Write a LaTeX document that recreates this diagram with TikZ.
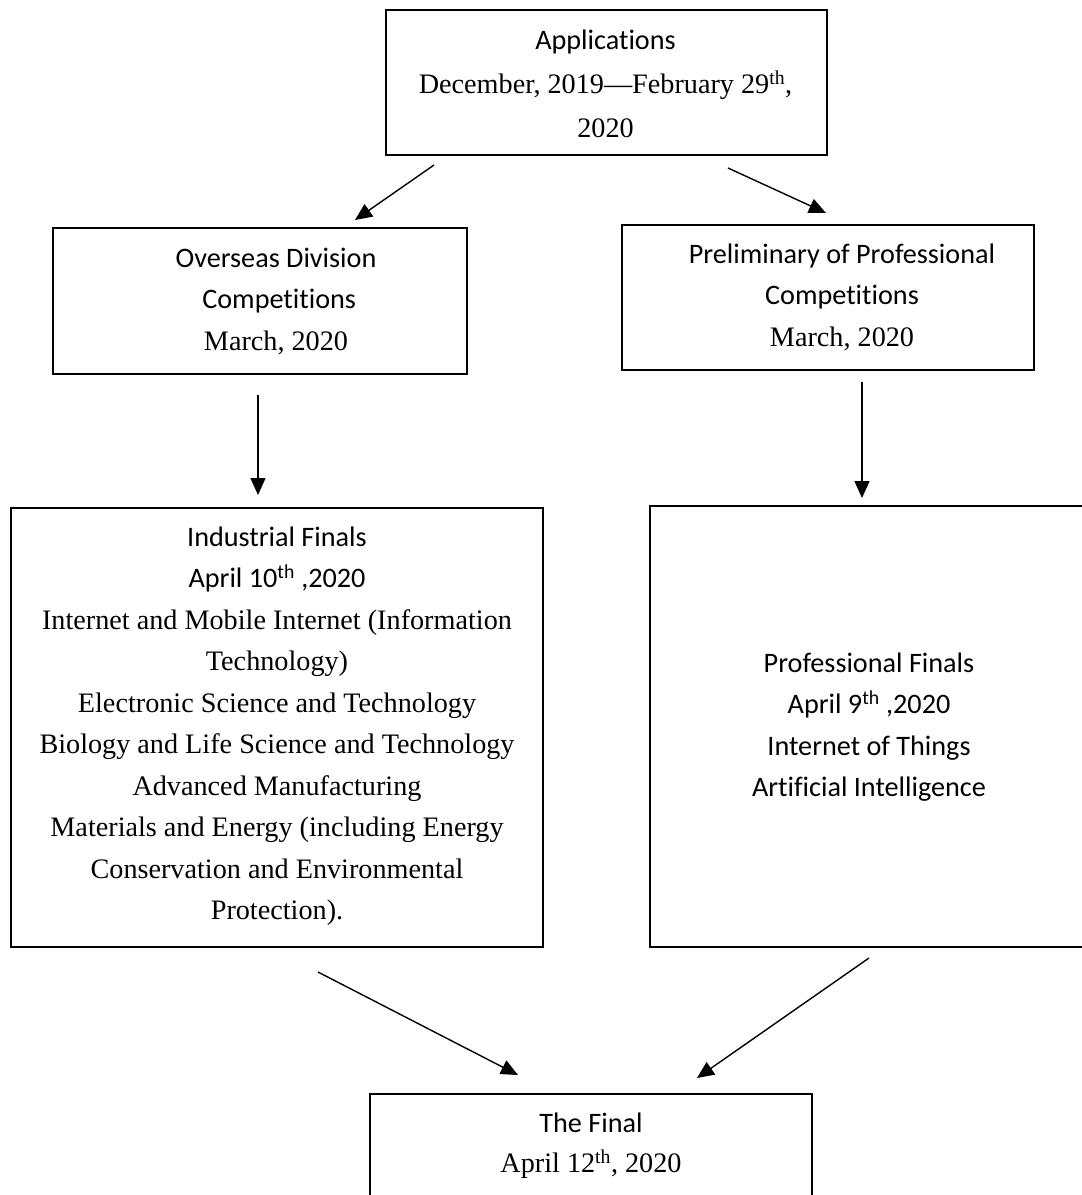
\documentclass[tikz,border=0pt]{standalone}
\usepackage{fontspec}
\setmainfont{Liberation Serif}
\newfontfamily\calfont[Ligatures=CommonOff]{Carlito}
\usetikzlibrary{arrows.meta}
\begin{document}
\begin{tikzpicture}[x=1pt,y=-1pt,
  box/.style={draw,line width=1.8pt,inner sep=0pt,anchor=north west},
  txt/.style={align=center,inner sep=0pt,font=\fontsize{28.2}{41.5}\selectfont},
  arr/.style={line width=1.4pt,-{Triangle[length=17pt,width=15pt]}}]
\clip (0,0) rectangle (1082,1195);
\useasboundingbox (0,0) rectangle (1082,1195);
\fill[white] (0,0) rectangle (1082,1195);

% boxes
\node[box,minimum width=441,minimum height=145] (appbox) at (385,9) {};
\node[box,minimum width=414,minimum height=146] (ovbox) at (52,227) {};
\node[box,minimum width=412,minimum height=145] (prbox) at (621,224) {};
\node[box,minimum width=532,minimum height=439] (indbox) at (10,507) {};
\node[box,minimum width=441,minimum height=441] (profbox) at (649,505) {};
\node[box,minimum width=442,minimum height=150] (finbox) at (369,1093) {};

% texts
\node[txt,font=\fontsize{28.2}{44}\selectfont] (app) at (605.5,84) {{\calfont Applications}\\December, 2019---February 29\textsuperscript{th},\\2020};
\node[txt] (ov) at (276,301) {{\calfont Overseas Division}\\{\calfont\ Competitions}\\March, 2020};
\node[txt] (pr) at (842,297) {{\calfont Preliminary of Professional}\\{\calfont Competitions}\\March, 2020};
\node[txt] (ind) at (277,726) {{\calfont Industrial Finals}\\{\calfont April 10\textsuperscript{th} ,2020}\\Internet and Mobile Internet (Information\\Technology)\\Electronic Science and Technology\\Biology and Life Science and Technology\\Advanced Manufacturing\\Materials and Energy (including Energy\\Conservation and Environmental\\Protection).};
\node[txt] (prof) at (869,727) {{\calfont Professional Finals}\\{\calfont April 9\textsuperscript{th} ,2020}\\{\calfont Internet of Things}\\{\calfont Artificial Intelligence}};
\node[txt,font=\fontsize{28.2}{40}\selectfont] (fin) at (591,1146) {{\calfont The Final}\\April 12\textsuperscript{th}, 2020};

% arrow end points
\coordinate (a1s) at (434,165); \coordinate (a1e) at (355,220);
\coordinate (a2s) at (728,168); \coordinate (a2e) at (826,213);
\coordinate (a3s) at (258,395); \coordinate (a3e) at (258,495);
\coordinate (a4s) at (862,382); \coordinate (a4e) at (862,498);
\coordinate (a5s) at (318,972); \coordinate (a5e) at (518,1075);
\coordinate (a6s) at (869,958); \coordinate (a6e) at (697,1078);

\draw[arr] (a1s) -- (a1e);
\draw[arr] (a2s) -- (a2e);
\draw[arr] (a3s) -- (a3e);
\draw[arr] (a4s) -- (a4e);
\draw[arr] (a5s) -- (a5e);
\draw[arr] (a6s) -- (a6e);
\end{tikzpicture}
\end{document}
